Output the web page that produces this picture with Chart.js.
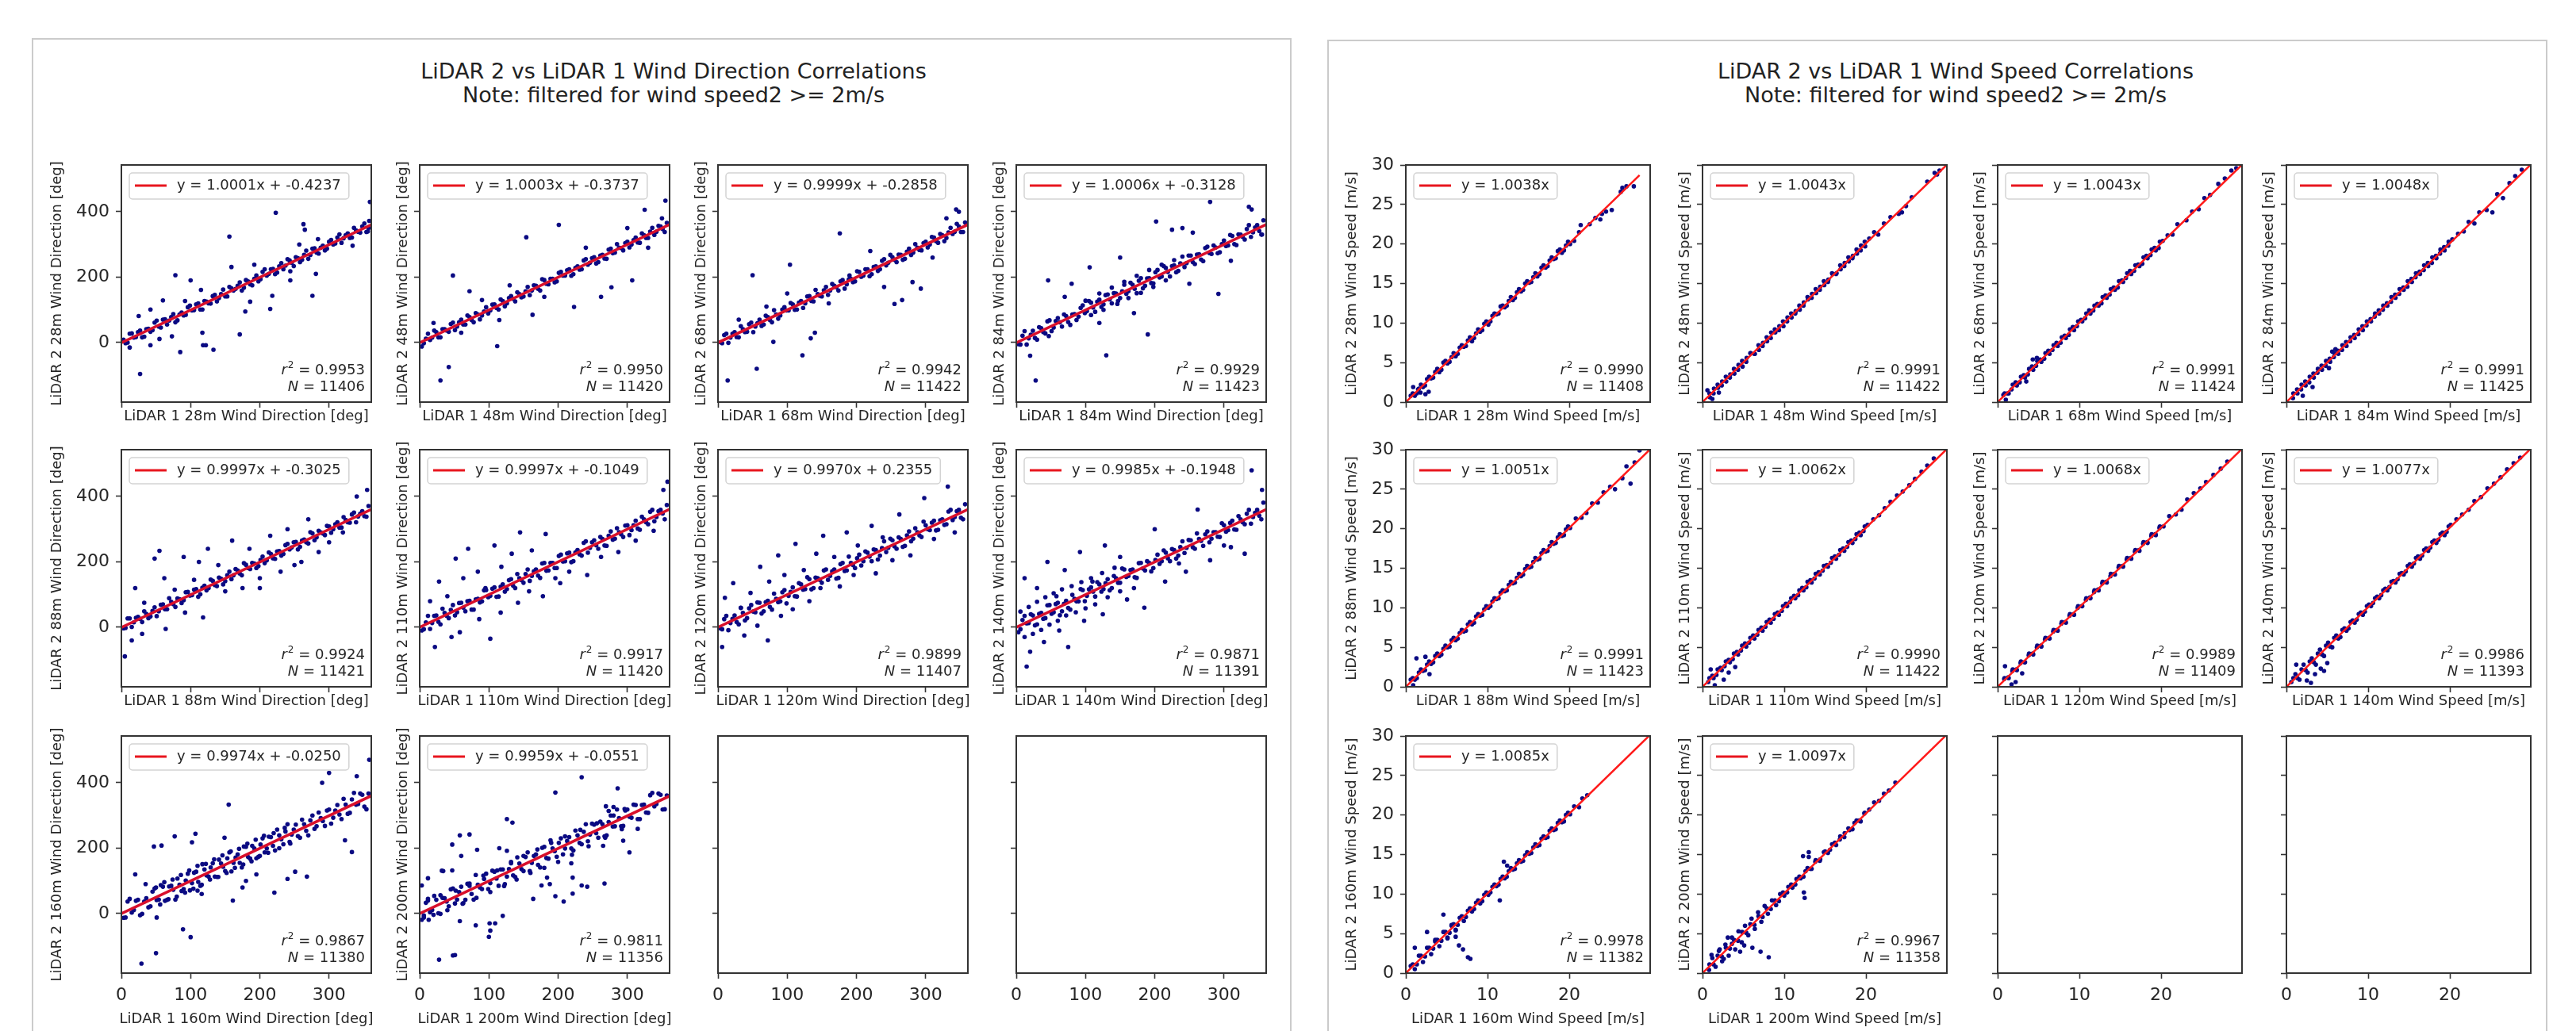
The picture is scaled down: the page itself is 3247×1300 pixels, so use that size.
<!DOCTYPE html>
<html lang="en">
<head>
<meta charset="UTF-8">
<title>LiDAR 2 vs LiDAR 1 Correlations</title>
<script src="https://cdn.jsdelivr.net/npm/chart.js"></script>
<style>
    body { margin: 0; width: 3247px; height: 1300px; position: relative; overflow: hidden; background: #fff; font-family: "DejaVu Sans", sans-serif; }
    .panel { position: absolute; box-sizing: border-box; border: 2px solid #cbcbcb; height: 1300px; background: #fff; }
    .suptitle { position: absolute; width: 900px; text-align: center; font-size: 27px; line-height: 30px; color: #222; }
    canvas { position: absolute; }
</style>
</head>
<body>
<div class="panel" style="left:40px; top:48px; width:1588px;"></div>
<div class="panel" style="left:1673px; top:50px; width:1538px;"></div>
<div class="suptitle" style="left:399px; top:75px;">LiDAR 2 vs LiDAR 1 Wind Direction Correlations<br>Note: filtered for wind speed2 &gt;= 2m/s</div>
<div class="suptitle" style="left:2015px; top:75px;">LiDAR 2 vs LiDAR 1 Wind Speed Correlations<br>Note: filtered for wind speed2 &gt;= 2m/s</div>

<script>
    // measurement heights, one subplot each
    const heights = [28, 48, 68, 84, 88, 110, 120, 140, 160, 200];

    // wind direction fits
    const dirSlope = [1.0001, 1.0003, 0.9999, 1.0006, 0.9997, 0.9997, 0.9970, 0.9985, 0.9974, 0.9959];
    const dirIntercept = [-0.4237, -0.3737, -0.2858, -0.3128, -0.3025, -0.1049, 0.2355, -0.1948, -0.0250, -0.0551];
    const dirR2 = [0.9953, 0.9950, 0.9942, 0.9929, 0.9924, 0.9917, 0.9899, 0.9871, 0.9867, 0.9811];
    const dirN = [11406, 11420, 11422, 11423, 11421, 11420, 11407, 11391, 11380, 11356];

    // wind speed fits (through origin)
    const spdSlope = [1.0038, 1.0043, 1.0043, 1.0048, 1.0051, 1.0062, 1.0068, 1.0077, 1.0085, 1.0097];
    const spdR2 = [0.9990, 0.9991, 0.9991, 0.9991, 0.9991, 0.9990, 0.9989, 0.9986, 0.9978, 0.9967];
    const spdN = [11408, 11422, 11424, 11425, 11423, 11422, 11409, 11393, 11382, 11358];
    const spdLineEnd = [28.6, 30, 30, 30, 30, 30, 30, 30, 30, 30];

    const dirTicksX = [0, 100, 200, 300];
    const dirTicksY = [0, 200, 400];
    const spdTicksX = [0, 10, 20];
    const spdTicksY = [0, 5, 10, 15, 20, 25, 30];

    // scatter points, flat x,y lists
    const dir28 = [3,9, 9,0, 15,28, 21,17, 27,37, 33,18, 39,42, 45,38, 51,67, 57,46, 63,71, 69,67, 75,87, 81,68, 87,92, 93,85, 99,113, 105,99, 111,120, 117,101, 123,125, 129,119, 135,146, 141,136, 147,162, 153,141, 159,166, 165,164, 171,184, 177,168, 183,187, 189,175, 195,205, 201,194, 207,224, 213,210, 219,225, 225,214, 231,243, 237,235, 243,251, 249,234, 255,258, 261,253, 267,281, 273,268, 279,288, 285,272, 291,296, 297,287, 303,314, 309,303, 315,331, 321,319, 327,334, 333,321, 339,343, 345,336, 351,364, 357,350,
        223,397, 156,324, 263,362, 265,345, 159,231, 78,206, 100,190, 192,238, 60,129, 42,101, 25,81, 115,161, 92,127, 257,300, 284,316, 276,143, 281,210, 244,190, 244,218, 218,143, 215,103, 186,125, 179,95, 171,25, 117,30, 118,-8, 122,-8, 133,-22, 85,-29, 42,-8, 73,19, 55,11, 27,-96, 12,-15, 359,430, 334,296, 358,372, 356,340];
    const dir48 = [3,-12, 9,12, 15,8, 21,37, 27,16, 33,41, 39,37, 45,57, 51,38, 57,62, 63,55, 69,83, 75,69, 81,90, 87,71, 93,95, 99,89, 105,116, 111,106, 117,132, 123,111, 129,136, 135,134, 141,154, 147,138, 153,157, 159,145, 165,175, 171,164, 177,194, 183,180, 189,195, 195,184, 201,213, 207,205, 213,221, 219,204, 225,228, 231,223, 237,251, 243,238, 249,258, 255,242, 261,266, 267,257, 273,284, 279,273, 285,301, 291,289, 297,304, 303,291, 309,313, 315,306, 321,334, 327,320, 333,339, 339,329, 345,357, 351,347, 357,366,
        201,360, 154,322, 325,406, 355,434, 48,205, 72,157, 277,169, 163,85, 115,69, 112,-11, 42,-75, 30,-116, 307,190, 223,109, 262,140, 90,130, 130,175, 240,290, 300,350, 20,60, 60,30, 180,140, 330,290, 350,380];
    const dir68 = [3,1, 9,23, 15,-1, 21,27, 27,17, 33,50, 39,32, 45,56, 51,32, 57,59, 63,51, 69,82, 75,69, 81,99, 87,73, 93,101, 99,98, 105,121, 111,100, 117,122, 123,106, 129,141, 135,127, 141,161, 147,143, 153,160, 159,146, 165,179, 171,169, 177,187, 183,165, 189,193, 195,185, 201,218, 207,201, 213,224, 219,203, 225,231, 231,219, 237,250, 243,236, 249,268, 255,253, 261,269, 267,253, 273,278, 279,268, 285,301, 291,283, 297,304, 303,291, 309,323, 315,310, 321,332, 327,310, 333,337, 339,332, 345,363, 351,338, 357,367,
        176,334, 344,407, 348,400, 104,238, 50,206, 266,130, 255,118, 293,165, 134,13, 80,2, 122,-39, 56,-80, 14,-116, 281,185, 190,205, 140,30, 100,150, 70,110, 220,280, 240,170, 310,260, 330,380, 30,70, 160,120];
    const dir84 = [3,-5, 9,21, 15,-6, 21,24, 27,14, 33,47, 39,32, 45,65, 51,35, 57,66, 63,62, 69,86, 75,63, 81,86, 87,69, 93,106, 99,90, 105,127, 111,107, 117,125, 123,109, 129,145, 135,132, 141,151, 147,127, 153,157, 159,149, 165,183, 171,164, 177,189, 183,166, 189,196, 195,182, 201,215, 207,199, 213,234, 219,216, 225,234, 231,215, 237,242, 243,231, 249,266, 255,246, 261,269, 267,254, 273,289, 279,274, 285,297, 291,273, 297,301, 303,295, 309,329, 315,301, 321,331, 327,323, 333,347, 339,323, 345,352, 351,341, 357,374,
        100,128, 108,84, 120,150, 126,100, 138,168, 146,118, 156,186, 162,136, 174,204, 180,152, 192,222, 198,170, 210,238, 216,190, 228,252,
        280,430, 202,370, 225,345, 240,350, 255,336, 340,407, 336,415, 46,190, 106,230, 292,149, 190,25, 130,-39, 47,20, 28,-116, 70,140, 150,260, 120,60, 250,180, 310,250, 80,180, 170,90, 355,330, 20,-40];
    const dir88 = [3,-3, 9,27, 15,1, 21,29, 27,26, 33,49, 39,28, 45,50, 51,34, 57,69, 63,55, 69,89, 75,71, 81,88, 87,74, 93,107, 99,97, 105,115, 111,93, 117,121, 123,113, 129,146, 135,129, 141,152, 147,131, 153,159, 159,147, 165,178, 171,164, 177,196, 183,181, 189,197, 195,181, 201,206, 207,196, 213,229, 219,211, 225,232, 231,219, 237,251, 243,238, 249,260, 255,238, 261,265, 267,260, 273,291, 279,266, 285,295, 291,287, 297,310, 303,289, 309,315, 315,305, 321,337, 327,321, 333,345, 339,321, 345,347, 351,340, 357,371,
        20,120, 33,75, 48,210, 55,234, 62,150, 77,115, 90,215, 105,145, 112,200, 125,240, 140,190, 150,110, 160,265, 175,120, 185,240, 200,150, 215,280, 230,170, 240,300, 250,190, 270,330, 285,230, 300,260, 320,290, 340,400, 355,420, 30,-20, 64,-5, 92,45, 118,30, 5,-89, 15,-40, 200,120, 260,200];
    const dir110 = [3,-10, 9,15, 15,-5, 21,35, 27,17, 33,57, 39,35, 45,53, 51,36, 57,74, 63,60, 69,80, 75,54, 81,85, 87,76, 93,113, 99,92, 105,118, 111,93, 117,124, 123,109, 129,144, 135,127, 141,163, 147,144, 153,163, 159,142, 165,171, 171,158, 177,195, 183,173, 189,197, 195,181, 201,218, 207,201, 213,226, 219,199, 225,229, 231,223, 237,258, 243,228, 249,260, 255,251, 261,276, 267,250, 273,280, 279,268, 285,303, 291,284, 297,311, 303,282, 309,312, 315,302, 321,338, 327,321, 333,353, 339,324, 345,355, 351,348, 357,374,
        15,80, 28,140, 40,95, 52,210, 63,150, 70,240, 84,170, 95,120, 108,250, 118,185, 133,225, 145,290, 162,235, 182,285, 196,150, 58,-15, 86,25, 102,-35, 117,45, 142,75, 158,110, 178,95, 203,135, 216,170, 242,160, 262,215, 287,230, 312,265, 338,295, 352,420, 358,445, 22,-60, 46,-30];
    const dir120 = [3,-3, 9,25, 15,-9, 21,26, 27,16, 33,59, 39,21, 45,58, 51,48, 57,76, 63,42, 69,77, 75,62, 81,103, 87,77, 93,107, 99,73, 105,108, 111,95, 117,135, 123,115, 129,153, 135,116, 141,152, 147,145, 153,174, 159,145, 165,171, 171,149, 177,193, 183,172, 189,216, 195,190, 201,211, 207,189, 213,232, 219,216, 225,238, 231,207, 237,242, 243,230, 249,271, 255,247, 261,275, 267,246, 273,281, 279,263, 285,303, 291,281, 297,323, 303,300, 309,320, 315,296, 321,327, 327,313, 333,354, 339,328, 345,355, 351,335, 357,376,
        10,90, 22,135, 33,60, 47,105, 61,185, 74,140, 87,220, 96,160, 112,255, 124,175, 142,225, 152,280, 168,215, 186,290, 202,250, 222,310, 238,275, 262,345, 298,395, 332,430, 38,-25, 57,5, 72,-40, 91,35, 108,55, 132,80, 148,120, 176,125, 196,160, 228,165, 252,205, 278,220, 312,270, 342,290, 6,-60];
    const dir140 = [3,-15, 9,22, 15,12, 21,40, 27,6, 33,41, 39,26, 45,67, 51,41, 57,71, 63,37, 69,72, 75,59, 81,99, 87,79, 93,117, 99,80, 105,116, 111,109, 117,138, 123,109, 129,135, 135,113, 141,157, 147,136, 153,180, 159,154, 165,175, 171,153, 177,196, 183,180, 189,202, 195,171, 201,206, 207,194, 213,235, 219,211, 225,239, 231,210, 237,245, 243,227, 249,267, 255,245, 261,287, 267,264, 273,284, 279,260, 285,291, 291,277, 297,318, 303,292, 309,319, 315,299, 321,340, 327,321, 333,347, 339,317, 345,350, 351,341, 357,381,
        6,48, 12,-30, 18,62, 24,-20, 30,78, 36,-8, 42,92, 48,8, 54,104, 60,20, 66,116, 72,36, 80,126, 86,46, 94,138, 100,58, 108,150, 114,70, 124,166, 132,92, 142,182, 150,110,
        12,150, 30,120, 45,200, 58,95, 70,175, 92,230, 110,140, 128,250, 150,215, 170,120, 200,300, 235,195, 262,360, 300,250, 340,480, 355,420, 40,-45, 62,-10, 75,-60, 98,20, 125,40, 160,85, 185,60, 215,140, 245,170, 280,205, 310,245, 330,225, 20,-75, 15,-120];
    const dir160 = [3,-13, 9,37, 15,3, 21,39, 27,-5, 33,37, 39,19, 45,67, 51,41, 57,87, 63,39, 69,83, 75,73, 81,107, 87,69, 93,101, 99,71, 105,125, 111,97, 117,151, 123,117, 129,141, 135,113, 141,165, 147,143, 153,169, 159,129, 165,171, 171,155, 177,205, 183,173, 189,207, 195,169, 201,211, 207,187, 213,235, 219,207, 225,257, 231,227, 237,251, 243,219, 249,257, 255,237, 261,287, 267,253, 273,285, 279,259, 285,309, 291,283, 297,315, 303,275, 309,315, 315,303, 321,351, 327,305, 333,349, 339,333, 345,367, 351,327, 357,367,
        50,80, 56,28, 62,96, 68,44, 74,104, 80,52, 86,118, 92,64, 98,132, 104,76, 110,146, 116,88, 122,152, 128,104, 134,166, 140,112, 146,178, 152,124, 158,190, 164,140, 170,198, 176,150, 182,214, 188,160, 194,226, 200,176, 206,238, 212,186, 220,246, 228,200, 236,262, 244,214,
        47,205, 58,208, 77,236, 107,244, 149,232, 155,333, 102,218, 323,224, 333,188, 251,128, 268,113, 240,106, 221,64, 161,40, 110,70, 116,60, 89,-48, 100,-72, 50,-121, 29,-153, 51,-12, 180,100, 195,120, 175,80, 300,430, 290,400, 340,420, 358,470, 20,120, 35,90];
    const dir200 = [3,-19, 9,33, 15,4, 21,54, 27,1, 33,48, 39,37, 45,74, 51,31, 57,66, 63,32, 69,91, 75,60, 81,118, 87,80, 93,106, 99,75, 105,131, 111,107, 117,135, 123,90, 129,136, 135,117, 141,172, 147,136, 153,173, 159,130, 165,176, 171,149, 177,201, 183,170, 189,224, 195,191, 201,216, 207,181, 213,222, 219,199, 225,254, 231,216, 237,250, 243,221, 249,275, 255,246, 261,281, 267,236, 273,280, 279,266, 285,318, 291,267, 297,315, 303,296, 309,333, 315,289, 321,332, 327,309, 333,362, 339,328, 345,367, 351,318, 357,361,
        6,-6, 12,40, 20,-4, 30,56, 40,10, 52,70, 62,30, 72,92, 82,48, 92,116, 102,66, 112,132, 122,84, 132,158, 140,104, 150,176, 160,124, 170,196, 180,140, 190,216, 200,158, 210,236, 220,180, 232,256, 244,206, 256,276, 268,232, 280,300, 292,258,
        234,417, 196,370, 286,383, 134,278, 58,239, 72,242, 47,211, 83,195, 60,176, 34,130, 47,132, 267,92, 303,187, 315,259, 265,207, 294,223, 219,154, 221,110, 234,86, 221,61, 242,82, 188,90, 196,53, 208,37, 164,45, 176,86, 184,110, 58,-23, 81,-36, 101,-30, 109,-30, 102,-52, 100,-71, 120,-7, 28,-141, 48,-128, 51,-127, 13,-19, 3,86, 12,108, 32,131, 269,328, 280,326, 273,314, 296,320, 126,289, 115,200, 126,192];

    // dense core of the direction clouds: narrow, medium and wide spread
    const dirCoreLow = [6,-2, 12,27, 18,15, 24,32, 30,16, 36,41, 42,33, 48,61, 54,49, 60,70, 66,55, 72,78, 78,62, 84,86, 90,83, 96,108, 102,98, 108,117, 114,101, 120,127, 126,120, 132,142, 138,126, 144,148, 150,141, 156,170, 162,159, 168,174, 174,159, 180,191, 186,178, 192,195, 198,187, 204,216, 210,205, 216,224, 222,209, 228,233, 234,224, 240,255, 246,244, 252,261, 258,246, 264,268, 270,256, 276,287, 282,275, 288,290, 294,282, 300,308, 306,300, 312,321, 318,305, 324,328, 330,320, 336,351, 342,339, 348,355, 354,338];
    const dirCoreMid = [6,-6, 12,35, 18,13, 24,36, 30,9, 36,44, 42,28, 48,68, 54,46, 60,75, 66,49, 72,81, 78,54, 84,87, 90,79, 96,114, 102,96, 108,122, 114,94, 120,131, 126,117, 132,147, 138,120, 144,150, 150,136, 156,177, 162,157, 168,177, 174,151, 180,197, 186,174, 192,197, 198,181, 204,222, 210,202, 216,228, 222,202, 228,236, 234,219, 240,263, 246,243, 252,266, 258,240, 264,270, 270,249, 276,293, 282,271, 288,291, 294,276, 300,312, 306,297, 312,326, 318,298, 324,330, 330,315, 336,359, 342,337, 348,359, 354,330];
    const dirCoreWide = [6,-12, 12,45, 18,11, 24,42, 30,-1, 36,47, 42,22, 48,77, 54,43, 60,82, 66,42, 72,85, 78,43, 84,88, 90,75, 96,122, 102,93, 108,128, 114,85, 120,135, 126,113, 132,154, 138,112, 144,153, 150,130, 156,187, 162,155, 168,181, 174,141, 180,204, 186,168, 192,199, 198,174, 204,230, 210,199, 216,234, 222,193, 228,239, 234,212, 240,273, 246,242, 252,272, 258,232, 264,273, 270,239, 276,300, 282,267, 288,292, 294,268, 300,318, 306,293, 312,332, 318,289, 324,333, 330,308, 336,369, 342,335, 348,363, 354,319];

    const spd28 = [0.6,0.8, 1.1,0.8, 1.6,1.7, 2.1,1.9, 2.6,2.9, 3.1,3.0, 3.6,3.8, 4.1,3.8, 4.6,5.0, 5.1,4.9, 5.6,5.7, 6.1,5.8, 6.6,6.9, 7.1,7.0, 7.6,7.8, 8.1,7.7, 8.6,8.7, 9.1,8.9, 9.6,9.9, 10.1,9.8, 10.6,10.9, 11.1,11.1, 11.6,12.1, 12.1,12.0, 12.6,12.8, 13.1,12.9, 13.6,13.9, 14.1,14.0, 14.6,15.0, 15.1,15.1, 15.6,15.8, 16.1,15.9, 16.6,17.0, 17.1,17.0, 17.6,17.9, 18.1,18.1, 18.6,19.1, 19.1,18.9, 19.6,19.8, 20.1,20.0,
        20.6,20.4, 21.2,21.5, 21.4,22.4, 22.5,22.5, 23.2,23.3, 23.8,23.1, 24.0,23.8, 24.5,24.1, 25.2,24.3, 26.3,26.6, 26.5,27.1, 27.0,27.3, 27.9,27.3,
        2.4,1.0, 1.8,1.2, 1.5,1.6, 2.8,1.3, 0.9,1.9];
    const spd48 = [0.9,0.6, 1.4,1.7, 1.9,1.8, 2.4,2.6, 2.9,2.6, 3.4,3.5, 3.9,3.6, 4.4,4.7, 4.9,4.5, 5.4,5.6, 5.9,6.2, 6.4,6.1, 6.9,6.6, 7.4,7.5, 7.9,7.7, 8.4,8.8, 8.9,8.8, 9.4,9.6, 9.9,9.6, 10.4,10.7, 10.9,10.7, 11.4,11.5, 11.9,11.7, 12.4,12.6, 12.9,13.0, 13.4,13.7, 13.9,13.8, 14.4,14.6, 14.9,14.8, 15.4,15.5, 15.9,16.2, 16.4,16.3, 16.9,16.8, 17.4,17.6, 17.9,17.8, 18.4,18.5, 18.9,18.8, 19.4,19.8, 19.9,19.7, 20.4,20.7,
        21.0,21.5, 21.5,21.2, 22.2,22.6, 23.0,23.4, 24.0,23.8, 24.4,24.0, 24.9,24.8, 25.6,25.9, 27.5,27.9, 28.7,28.8, 29.0,29.3, 28.4,29.0,
        1.2,0.4, 2.0,1.2, 0.6,1.5];
    const spd68 = [0.7,0.9, 1.2,1.1, 1.7,1.6, 2.2,2.5, 2.7,2.5, 3.2,3.4, 3.7,3.5, 4.2,4.5, 4.7,4.6, 5.2,5.4, 5.7,5.5, 6.2,6.5, 6.7,6.6, 7.2,7.5, 7.7,7.5, 8.2,8.4, 8.7,8.5, 9.2,9.5, 9.7,9.6, 10.2,10.4, 10.7,10.6, 11.2,11.6, 11.7,11.6, 12.2,12.4, 12.7,12.5, 13.2,13.5, 13.7,13.6, 14.2,14.5, 14.7,14.5, 15.2,15.4, 15.7,15.7, 16.2,16.6, 16.7,16.6, 17.2,17.4, 17.7,17.5, 18.2,18.5, 18.7,18.6, 19.2,19.5, 19.7,19.5, 20.2,20.4,
        20.8,21.1, 21.4,21.2, 22.0,22.5, 23.1,23.0, 23.8,24.1, 24.6,24.4, 25.3,25.8, 26.0,26.2, 27.0,27.6, 27.8,28.3, 28.6,29.3, 29.2,29.6,
        4.3,5.4, 4.8,5.6, 1.0,0.3, 3.5,2.6];
    const spd84 = [0.8,0.5, 1.3,1.6, 1.8,1.6, 2.3,2.6, 2.8,2.5, 3.3,3.6, 3.8,3.7, 4.3,4.6, 4.8,4.6, 5.3,5.5, 5.8,5.7, 6.3,6.5, 6.8,6.6, 7.3,7.6, 7.8,7.7, 8.3,8.5, 8.8,8.6, 9.3,9.6, 9.8,9.7, 10.3,10.5, 10.8,10.8, 11.3,11.6, 11.8,11.7, 12.3,12.5, 12.8,12.7, 13.3,13.6, 13.8,13.7, 14.3,14.5, 14.8,14.6, 15.3,15.6, 15.8,15.8, 16.3,16.5, 16.8,16.7, 17.3,17.6, 17.8,17.6, 18.3,18.5, 18.8,18.8, 19.3,19.6, 19.8,19.8, 20.3,20.6,
        21.0,21.3, 21.7,21.6, 22.3,22.8, 23.0,22.6, 23.6,24.0, 24.5,24.3, 25.2,24.0, 25.8,26.3, 26.5,25.8, 27.3,27.7, 28.0,28.6, 28.8,29.4,
        5.6,6.4, 6.0,6.7, 5.2,4.3, 2.0,0.8, 3.2,1.9];
    const spd88 = [0.6,0.9, 1.1,0.9, 1.6,1.8, 2.1,2.0, 2.6,2.8, 3.1,2.9, 3.6,3.9, 4.1,3.9, 4.6,4.8, 5.1,5.0, 5.6,5.9, 6.1,5.9, 6.6,6.8, 7.1,7.0, 7.6,7.9, 8.1,7.9, 8.6,8.9, 9.1,9.0, 9.6,9.8, 10.1,10.0, 10.6,10.8, 11.1,11.1, 11.6,11.9, 12.1,12.1, 12.6,12.9, 13.1,13.1, 13.6,13.8, 14.1,14.0, 14.6,14.9, 15.1,15.1, 15.6,15.8, 16.1,16.1, 16.6,16.9, 17.1,17.1, 17.6,17.8, 18.1,18.1, 18.6,18.9, 19.1,19.1, 19.6,19.9, 20.1,20.1,
        20.8,21.3, 21.5,21.4, 22.1,22.0, 22.8,23.2, 23.5,23.3, 24.2,24.6, 25.0,25.3, 25.6,25.0, 26.5,26.4, 27.0,27.9, 27.5,25.7, 28.6,29.9, 28.0,28.4,
        1.3,3.6, 2.4,3.8, 2.9,1.6, 0.9,0.2];
    const spd110 = [0.7,0.6, 1.2,1.4, 1.7,1.5, 2.2,2.4, 2.7,2.6, 3.2,3.4, 3.7,3.5, 4.2,4.4, 4.7,4.6, 5.2,5.5, 5.7,5.6, 6.2,6.5, 6.7,6.6, 7.2,7.5, 7.7,7.6, 8.2,8.5, 8.7,8.6, 9.2,9.4, 9.7,9.6, 10.2,10.5, 10.7,10.7, 11.2,11.5, 11.7,11.6, 12.2,12.5, 12.7,12.6, 13.2,13.5, 13.7,13.7, 14.2,14.5, 14.7,14.7, 15.2,15.4, 15.7,15.7, 16.2,16.5, 16.7,16.7, 17.2,17.5, 17.7,17.7, 18.2,18.5, 18.7,18.7, 19.2,19.5, 19.7,19.7, 20.2,20.5,
        20.9,21.2, 21.6,21.7, 22.3,22.6, 23.0,23.4, 23.8,24.2, 24.5,24.7, 25.3,25.5, 26.0,26.3, 26.8,27.2, 27.5,28.0, 28.3,28.9,
        1.5,0.2, 2.6,0.9, 3.2,1.8, 4.0,2.5, 1.0,2.2];
    const spd120 = [0.8,1.0, 1.3,1.2, 1.8,2.0, 2.3,2.2, 2.8,3.0, 3.3,3.1, 3.8,4.0, 4.3,4.2, 4.8,5.0, 5.3,5.2, 5.8,6.0, 6.3,6.2, 6.8,7.0, 7.3,7.2, 7.8,8.0, 8.3,8.2, 8.8,9.0, 9.3,9.2, 9.8,10.0, 10.3,10.2, 10.8,11.0, 11.3,11.3, 11.8,12.0, 12.3,12.3, 12.8,13.1, 13.3,13.3, 13.8,14.0, 14.3,14.3, 14.8,15.1, 15.3,15.3, 15.8,16.1, 16.3,16.3, 16.8,17.1, 17.3,17.3, 17.8,18.1, 18.3,18.3, 18.8,19.1, 19.3,19.3, 19.8,20.1, 20.3,20.3,
        21.0,21.6, 21.8,21.8, 22.5,22.4, 23.2,23.7, 24.0,24.5, 24.8,25.1, 25.5,25.9, 26.4,26.8, 27.3,27.6, 28.1,28.5,
        1.7,0.3, 2.2,0.6, 0.9,2.6, 3.0,1.7];
    const spd140 = [0.6,0.6, 1.1,1.6, 1.6,0.9, 2.1,2.8, 2.6,1.8, 3.1,3.6, 3.6,2.8, 4.1,4.7, 4.6,3.9, 5.1,5.6, 5.6,5.0, 6.1,6.5, 6.6,6.3, 7.1,7.4, 7.6,7.4, 8.1,8.4, 8.6,8.5, 9.1,9.4, 9.6,9.5, 10.1,10.4, 10.6,10.6, 11.1,11.4, 11.6,11.6, 12.1,12.4, 12.6,12.6, 13.1,13.4, 13.6,13.6, 14.1,14.4, 14.6,14.6, 15.1,15.5, 15.6,15.6, 16.1,16.5, 16.6,16.6, 17.1,17.5, 17.6,17.6, 18.1,18.5, 18.6,18.6, 19.1,19.5, 19.6,19.6, 20.1,20.5,
        20.8,21.2, 21.5,21.8, 22.3,22.4, 23.0,23.5, 23.8,24.0, 24.6,25.1, 25.4,25.7, 26.2,26.5, 27.0,27.5, 27.8,28.3, 28.6,29.0,
        2.5,0.8, 3.5,1.6, 4.2,2.3, 5.0,3.0, 4.6,2.0, 3.0,0.5, 1.2,2.8];
    const spd160 = [0.6,0.9, 1.1,0.5, 1.6,2.2, 2.1,1.4, 2.6,3.2, 3.1,2.4, 3.6,4.2, 4.1,3.4, 4.6,5.2, 5.1,4.4, 5.6,6.1, 6.1,5.5, 6.6,7.0, 7.1,6.6, 7.6,7.9, 8.1,7.8, 8.6,8.9, 9.1,8.8, 9.6,9.9, 10.1,9.9, 10.6,10.9, 11.1,11.0, 11.6,11.9, 12.1,12.0, 12.6,12.9, 13.1,13.1, 13.6,13.9, 14.1,14.1, 14.6,14.9, 15.1,15.1, 15.6,15.9, 16.1,16.1, 16.6,17.0, 17.1,17.1, 17.6,18.0, 18.1,18.1, 18.6,19.0, 19.1,19.1, 19.6,20.0, 20.1,20.1,
        20.6,21.1, 21.2,21.0, 21.6,22.1, 22.2,22.5, 12.0,14.1, 12.4,13.6, 11.5,9.2,
        2.6,5.2, 3.6,4.0, 5.6,6.0, 6.1,5.4, 5.1,4.5, 6.5,3.5, 7.0,3.0, 7.6,2.0, 7.9,1.8, 6.1,4.6, 4.6,7.4, 1.1,3.2];
    const spd200 = [0.8,0.4, 1.2,1.9, 1.6,0.8, 2.0,2.8, 2.4,1.5, 2.8,3.6, 3.2,2.2, 3.6,4.5, 4.0,3.0, 4.4,5.3, 4.8,3.9, 5.2,6.0, 5.6,4.8, 6.0,6.9, 6.4,5.6, 6.8,7.7, 7.2,6.5, 7.6,8.5, 8.0,7.5, 8.5,9.2, 9.0,8.6, 9.5,10.0, 10.0,9.8, 10.5,10.9, 11.0,10.8, 11.5,11.9, 12.0,12.0, 12.6,12.9, 13.2,13.2, 13.8,14.1, 14.4,14.4, 15.0,15.4, 15.6,15.6, 16.2,16.5, 16.8,16.9, 17.4,17.7, 18.0,18.1, 18.6,19.0, 19.2,19.3, 19.8,20.2,
        20.4,20.7, 21.0,21.6, 21.6,21.8, 22.2,22.7, 22.8,23.1, 23.6,24.1, 12.3,14.8, 13.0,15.3, 12.4,10.2,
        2.1,3.0, 1.1,2.3, 3.1,4.5, 5.1,3.5, 6.1,3.2, 7.1,2.7, 8.1,2.0, 4.6,2.7, 3.6,3.7, 2.6,1.8, 12.5,9.5, 13.0,14.7];

    // dense core of the speed clouds
    const spdCore = [0.85,1.1, 1.35,1.1, 1.85,2.2, 2.35,2.1, 2.85,3.2, 3.35,3.1, 3.85,4.2, 4.35,4.1, 4.85,5.2, 5.35,5.1, 5.85,6.2, 6.35,6.1, 6.85,7.2, 7.35,7.1, 7.85,8.2, 8.35,8.1, 8.85,9.2, 9.35,9.1, 9.85,10.2, 10.35,10.2, 10.85,11.2, 11.35,11.2, 11.85,12.2, 12.35,12.2, 12.85,13.3, 13.35,13.2, 13.85,14.3, 14.35,14.2, 14.85,15.3, 15.35,15.2, 15.85,16.3, 16.35,16.2, 16.85,17.3, 17.35,17.2, 17.85,18.3, 18.35,18.2, 18.85,19.3, 19.35,19.2, 19.85,20.3];

    const dirPoints = [dir28.concat(dirCoreLow), dir48.concat(dirCoreLow), dir68.concat(dirCoreLow), dir84.concat(dirCoreMid),
        dir88.concat(dirCoreLow), dir110.concat(dirCoreMid), dir120.concat(dirCoreMid), dir140.concat(dirCoreMid),
        dir160.concat(dirCoreWide), dir200.concat(dirCoreWide)];
    const spdPoints = [spd28, spd48, spd68, spd84, spd88, spd110, spd120, spd140, spd160, spd200].map(a => a.concat(spdCore));

    // page geometry (pixels)
    const ROW_TOP = [208, 567, 928];
    const BOX_H = 299;
    const DIR_LEFT = [153, 529, 905, 1281];
    const DIR_W = 315;
    const SPD_LEFT = [1772, 2146, 2518, 2882];
    const SPD_W = 308;

    const FONT = '"DejaVu Sans", sans-serif';
    const INK = '#262626';

    function pairs(flat) {
        const out = [];
        for (let i = 0; i < flat.length; i += 2) out.push({ x: flat[i], y: flat[i + 1] });
        return out;
    }

    function drawLegend(ctx, a, text) {
        ctx.font = '18px ' + FONT;
        const tw = ctx.measureText(text).width;
        const x0 = a.left + 10, y0 = a.top + 10, w = tw + 70, h = 33;
        ctx.beginPath();
        ctx.roundRect(x0, y0, w, h, 4);
        ctx.fillStyle = 'rgba(255,255,255,0.85)';
        ctx.fill();
        ctx.strokeStyle = '#d3d3d3';
        ctx.lineWidth = 1.5;
        ctx.stroke();
        ctx.beginPath();
        ctx.moveTo(x0 + 7, y0 + 16);
        ctx.lineTo(x0 + 47, y0 + 16);
        ctx.strokeStyle = '#e8161e';
        ctx.lineWidth = 3;
        ctx.stroke();
        ctx.fillStyle = INK;
        ctx.textAlign = 'left';
        ctx.textBaseline = 'middle';
        ctx.fillText(text, x0 + 60, y0 + 16);
    }

    function drawStats(ctx, a, r2, n) {
        ctx.fillStyle = INK;
        ctx.textAlign = 'right';
        ctx.textBaseline = 'alphabetic';
        let x = a.right - 8;
        const y1 = a.bottom - 35, y2 = a.bottom - 14;
        ctx.font = '18px ' + FONT;
        const t1 = ' = ' + r2;
        ctx.fillText(t1, x, y1);
        x -= ctx.measureText(t1).width;
        ctx.font = '12px ' + FONT;
        ctx.fillText('2', x, y1 - 8);
        x -= ctx.measureText('2').width + 1;
        ctx.font = 'italic 18px ' + FONT;
        ctx.fillText('r', x, y1);

        x = a.right - 8;
        ctx.font = '18px ' + FONT;
        const t2 = ' = ' + n;
        ctx.fillText(t2, x, y2);
        x -= ctx.measureText(t2).width;
        ctx.font = 'italic 18px ' + FONT;
        ctx.fillText('N', x, y2);
    }

    // frame, axis titles, legend and stats drawn over the plot
    const decorPlugin = {
        id: 'decor',
        afterDraw(chart, args, o) {
            const ctx = chart.ctx, a = chart.chartArea;
            ctx.save();
            ctx.strokeStyle = '#333';
            ctx.lineWidth = 2;
            ctx.strokeRect(a.left, a.top, a.right - a.left, a.bottom - a.top);
            ctx.fillStyle = INK;
            ctx.font = '18px ' + FONT;
            ctx.textAlign = 'center';
            ctx.textBaseline = 'middle';
            if (o.xTitle) ctx.fillText(o.xTitle, (a.left + a.right) / 2, a.bottom + o.xOff);
            if (o.yTitle) {
                ctx.save();
                ctx.translate(a.left - o.yOff, (a.top + a.bottom) / 2);
                ctx.rotate(-Math.PI / 2);
                ctx.fillText(o.yTitle, 0, 0);
                ctx.restore();
            }
            if (o.legend) drawLegend(ctx, a, o.legend);
            if (o.r2) drawStats(ctx, a, o.r2, o.n);
            ctx.restore();
        }
    };

    function makeAxis(min, max, tickVals, showLabels, size, horizontal) {
        return {
            type: 'linear',
            min: min,
            max: max,
            afterBuildTicks: s => { s.ticks = tickVals.map(v => ({ value: v })); },
            afterFit: s => {
                if (horizontal) s.height = size; else s.width = size;
                s.paddingLeft = 0; s.paddingRight = 0; s.paddingTop = 0; s.paddingBottom = 0;
            },
            grid: { drawOnChartArea: false, drawTicks: true, tickLength: 7, tickWidth: 1.6, tickColor: '#333', color: '#333' },
            border: { display: false },
            ticks: { display: showLabels, padding: 8, color: INK, maxRotation: 0, autoSkip: false, font: { family: FONT, size: 22 } }
        };
    }

    function addPlot(p) {
        const T = 14, R = 8;
        const L = p.yOff + 13, B = p.xOff + 13;
        const cv = document.createElement('canvas');
        cv.width = L + p.w + R;
        cv.height = T + BOX_H + B;
        cv.style.left = (p.left - L) + 'px';
        cv.style.top = (p.top - T) + 'px';
        cv.style.width = cv.width + 'px';
        cv.style.height = cv.height + 'px';
        document.body.appendChild(cv);

        const datasets = [];
        if (p.fit) {
            datasets.push({
                type: 'line', data: p.fit, borderColor: p.lineColor, borderWidth: p.lineWidth,
                pointRadius: 0, clip: 0, order: 0
            });
        }
        if (p.points) {
            datasets.push({
                data: pairs(p.points), pointRadius: 2.8, pointBackgroundColor: '#0a0a82',
                pointBorderWidth: 0, clip: 0, order: 1
            });
        }

        new Chart(cv, {
            type: 'scatter',
            data: { datasets: datasets },
            options: {
                responsive: false,
                animation: false,
                events: [],
                layout: { padding: { top: T, right: R, left: 0, bottom: 0 } },
                plugins: {
                    legend: { display: false },
                    tooltip: { enabled: false },
                    decor: {
                        xTitle: p.xTitle, yTitle: p.yTitle, xOff: p.xOff, yOff: p.yOff,
                        legend: p.legend, r2: p.r2, n: p.n
                    }
                },
                scales: {
                    x: makeAxis(p.xMin, p.xMax, p.xTicks, p.row === 2, B, true),
                    y: makeAxis(p.yMin, p.yMax, p.yTicks, p.col === 0, L, false)
                }
            },
            plugins: [decorPlugin]
        });
    }

    for (let k = 0; k < 12; k++) {
        const row = Math.floor(k / 4), col = k % 4;
        const used = k < heights.length;
        const h = heights[k];
        const xOff = row === 2 ? 58 : 18;

        // wind direction panel
        addPlot({
            row, col, left: DIR_LEFT[col], top: ROW_TOP[row], w: DIR_W,
            xMin: 0, xMax: 361, yMin: -182, yMax: 543, xTicks: dirTicksX, yTicks: dirTicksY,
            xOff: xOff, yOff: col === 0 ? 81 : 21,
            xTitle: used ? `LiDAR 1 ${h}m Wind Direction [deg]` : '',
            yTitle: used ? `LiDAR 2 ${h}m Wind Direction [deg]` : '',
            points: used ? dirPoints[k] : null,
            fit: used ? [{ x: 0, y: dirIntercept[k] }, { x: 361, y: dirSlope[k] * 361 + dirIntercept[k] }] : null,
            lineColor: '#d8102c', lineWidth: 3.5,
            legend: used ? `y = ${dirSlope[k].toFixed(4)}x + ${dirIntercept[k].toFixed(4)}` : '',
            r2: used ? dirR2[k].toFixed(4) : '', n: used ? String(dirN[k]) : ''
        });

        // wind speed panel
        addPlot({
            row, col, left: SPD_LEFT[col], top: ROW_TOP[row], w: SPD_W,
            xMin: 0, xMax: 29.9, yMin: 0, yMax: 30, xTicks: spdTicksX, yTicks: spdTicksY,
            xOff: xOff, yOff: col === 0 ? 68 : 22,
            xTitle: used ? `LiDAR 1 ${h}m Wind Speed [m/s]` : '',
            yTitle: used ? `LiDAR 2 ${h}m Wind Speed [m/s]` : '',
            points: used ? spdPoints[k] : null,
            fit: used ? [{ x: 0, y: 0 }, { x: spdLineEnd[k], y: spdSlope[k] * spdLineEnd[k] }] : null,
            lineColor: '#ff1a1a', lineWidth: 2.5,
            legend: used ? `y = ${spdSlope[k].toFixed(4)}x` : '',
            r2: used ? spdR2[k].toFixed(4) : '', n: used ? String(spdN[k]) : ''
        });
    }
</script>
</body>
</html>
